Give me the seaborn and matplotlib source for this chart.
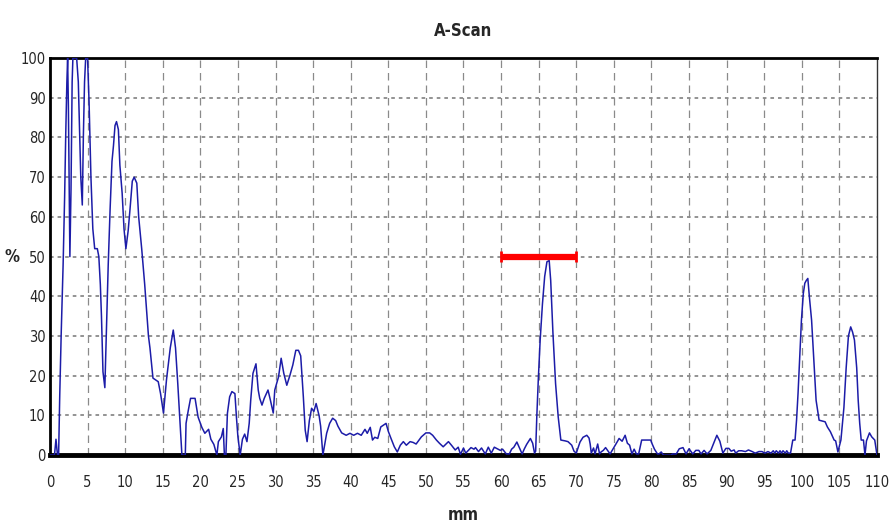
import matplotlib
matplotlib.use('Agg')
import matplotlib.pyplot as plt
import seaborn as sns
import pandas as pd

# A-scan trace (mm, % amplitude)
depth_mm = [
    0.0, 0.6, 0.8, 1.0, 1.15, 1.3, 1.5, 1.75, 1.95, 2.1, 2.25, 2.35, 2.45, 2.6, 2.65, 2.8, 2.95, 3.05,
    3.55, 3.77, 3.95, 4.1, 4.3, 4.45, 4.6, 4.75, 5.0, 5.2, 5.45, 5.7, 5.95, 6.3, 6.5, 6.7, 6.85, 7.05,
    7.3, 7.5, 7.75, 8.0, 8.25, 8.45, 8.65, 8.85, 9.1, 9.3, 9.6, 9.85, 10.1, 10.4, 10.65, 10.95, 11.2,
    11.55, 11.8, 12.2, 12.6, 13.1, 13.3, 13.7, 14.4, 14.7, 15.1, 15.5, 16.0, 16.4, 16.7, 17.0, 17.3,
    17.55, 18.0, 18.1, 18.4, 18.7, 19.3, 19.7, 20.2, 20.6, 21.1, 21.4, 21.8, 22.2, 22.4, 22.8, 23.05,
    23.2, 23.4, 23.6, 23.9, 24.2, 24.6, 24.8, 25.0, 25.3, 25.6, 25.9, 26.2, 26.5, 26.7, 27.0, 27.4,
    27.7, 27.9, 28.2, 28.5, 29.0, 29.3, 29.7, 29.9, 30.4, 30.75, 31.1, 31.5, 31.9, 32.3, 32.7, 33.05,
    33.35, 33.7, 33.95, 34.2, 34.5, 34.8, 35.1, 35.4, 35.8, 36.0, 36.3, 36.8, 37.2, 37.6, 38.0, 38.3,
    38.8, 39.4, 39.9, 40.4, 40.9, 41.4, 41.9, 42.2, 42.6, 42.9, 43.2, 43.6, 44.0, 44.4, 44.7, 45.0,
    45.3, 45.8, 46.2, 46.6, 47.0, 47.4, 47.9, 48.3, 48.7, 49.4, 50.0, 50.5, 50.9, 51.4, 51.8, 52.3,
    53.0, 53.4, 53.9, 54.3, 54.6, 55.0, 55.3, 56.0, 56.4, 56.6, 57.0, 57.4, 57.9, 58.3, 58.7, 59.1,
    59.5, 59.9, 60.2, 60.7, 61.1, 61.4, 61.7, 62.1, 62.4, 62.8, 63.1, 63.4, 63.9, 64.2, 64.45, 64.6,
    64.75, 64.95, 65.2, 65.5, 65.8, 66.1, 66.4, 66.6, 66.9, 67.25, 67.6, 67.95, 68.5, 68.9, 69.4,
    69.7, 70.0, 70.5, 70.9, 71.4, 71.7, 71.85, 72.0, 72.3, 72.5, 72.85, 73.1, 73.3, 73.6, 73.9, 74.5,
    75.0, 75.4, 75.7, 76.1, 76.5, 76.8, 77.1, 77.4, 77.7, 78.0, 78.3, 78.7, 79.4, 79.9, 80.1, 80.4,
    80.8, 81.0, 81.3, 81.6, 82.1, 82.6, 82.8, 83.3, 83.7, 84.2, 84.6, 85.0, 85.5, 85.9, 86.3, 86.6,
    87.0, 87.4, 87.9, 88.2, 88.7, 89.1, 89.5, 89.9, 90.3, 90.6, 91.0, 91.2, 91.6, 92.0, 92.5, 92.9,
    93.4, 93.8, 94.3, 94.7, 95.1, 95.5, 95.9, 96.2, 96.4, 96.6, 96.9, 97.1, 97.3, 97.5, 97.8, 98.0,
    98.2, 98.5, 98.8, 99.1, 99.3, 99.5, 99.7, 99.95, 100.2, 100.4, 100.6, 100.8, 101.0, 101.3, 101.6,
    101.9, 102.3, 102.7, 103.1, 103.4, 103.8, 104.3, 104.5, 104.8, 105.2, 105.6, 105.9, 106.2, 106.5,
    106.75, 107.0, 107.3, 107.5, 107.7, 107.9, 108.2, 108.4, 108.6, 109.0, 109.3, 109.7, 110.0,
]
amplitude = [
    0, 0, 4, 0, 0, 15, 31, 48, 65, 81, 94, 100, 88, 60, 50, 67, 94, 100,
    100, 94, 81, 70, 63, 81, 94, 100, 100, 89, 70, 57, 52, 52, 50, 43, 35, 21,
    17, 31, 48, 62, 74, 78, 83, 84, 82, 73, 66, 57, 52, 56.5, 62, 69, 70,
    68.5, 60, 52, 43, 30, 27, 19.4, 18.5, 15.6, 10.6, 19, 27, 31.5, 27, 18, 8,
    0, 0, 8, 11.3, 14.3, 14.3, 9.6, 7, 5.5, 6.5, 4, 2.7, 0, 3.4, 4.6, 6.7,
    0, 0, 10.5, 14.7, 16, 15.5, 9.6, 4.6, 0, 4, 5.3, 3.4, 8, 13.8, 20.6, 23,
    16.4, 14.3, 12.6, 14.3, 16.4, 14, 10.6, 16.4, 19.7, 24.4, 20.6, 17.6, 20, 22.7, 26.4, 26.4,
    25, 14.7, 6.3, 3.4, 8.7, 11.8, 11, 13, 9.9, 7.3, 0, 5.5, 8, 9.3, 8.7, 7.3,
    5.6, 5, 5.5, 5, 5.5, 5, 6.5, 5.5, 7, 3.8, 4.5, 4.2, 7.1, 7.6, 8, 6,
    4.5, 2.1, 0.8, 2.5, 3.4, 2.5, 3.4, 3.2, 2.8, 4.6, 5.6, 5.6, 5, 3.8, 3, 2.1,
    3.4, 2.5, 1.3, 2, 0.2, 1.8, 0.5, 1.9, 1.5, 1.9, 0.9, 1.8, 0.3, 2, 0.5, 2,
    1.6, 1.2, 1.5, 0.3, 0.3, 1.5, 2, 3.3, 2, 0.3, 1.6, 2.7, 4.2, 3, 0.5, 1,
    9.6, 19, 29, 38, 45, 48.7, 49, 44, 30.7, 18, 9.6, 3.8, 3.6, 3.4, 2.5,
    1, 0.5, 3.3, 4.5, 5, 4.3, 2.8, 0.5, 1.8, 0.3, 2.8, 0.3, 0.8, 1.2, 1.9, 0.3,
    1.9, 3.2, 4.2, 3.5, 5, 3, 2.5, 0.3, 1.5, 0.3, 0.3, 3.8, 3.8, 3.8, 2.8, 1.5,
    0.3, 0.3, 0.8, 0, 0, 0, 0.3, 0.3, 1.6, 1.9, 0.3, 1.6, 0.3, 1.2, 1.2, 0.3,
    1.2, 0.3, 1.2, 2.6, 5, 3.5, 0.5, 1.7, 1.7, 1.0, 1.3, 0.5, 1.1, 1.1, 0.9, 1.3,
    0.9, 0.5, 0.9, 0.9, 0.5, 0.9, 0.5, 1.1, 0.5, 1.1, 0.5, 1.1, 0.5, 1.1, 0.5, 1.1,
    0.5, 0.5, 3.8, 3.8, 8.8, 15.6, 24, 34, 40.7, 43.3, 44, 44.5, 40, 34, 24,
    13.8, 8.8, 8.6, 8.4, 7.1, 5.9, 3.8, 3.6, 0.8, 3.8, 12, 22, 30, 32.3,
    31, 29, 22, 13.8, 8, 3.8, 3.8, 0, 3.6, 5.6, 4.6, 3.8, 0,
]

# gate (red bar)
gate_start = 60
gate_end = 70
gate_level = 50

x_ticks = list(range(0, 111, 5))
y_ticks = list(range(0, 101, 10))

sns.set_style('white')
plt.rcParams['font.family'] = ['DejaVu Sans']
plt.rcParams['font.stretch'] = 'condensed'

df = pd.DataFrame({'mm': depth_mm, 'pct': amplitude})

fig = plt.figure(figsize=(8.89, 5.28), dpi=100)
ax = fig.add_axes([0.0562, 0.138, 0.9303, 0.752])

# grid: dashed verticals, dotted horizontals
for xv in x_ticks[1:-1]:
    ax.axvline(xv, color='#8a8a8a', lw=0.9, dashes=(6, 4), zorder=1)
for yv in y_ticks[1:-1]:
    ax.axhline(yv, color='#8a8a8a', lw=1.3, dashes=(2, 2.2), zorder=1)

sns.lineplot(data=df, x='mm', y='pct', ax=ax, color='#1c1ca8', lw=1.1,
             estimator=None, sort=False, zorder=3)

# gate bar with end caps
ax.hlines(gate_level, gate_start, gate_end, color='#ff0000', lw=4.5, zorder=4)
ax.vlines([gate_start, gate_end], gate_level - 1.3, gate_level + 1.3, color='#ff0000', lw=2, zorder=4)

ax.set_xlim(0, 110)
ax.set_ylim(0, 100)
ax.set_xticks(x_ticks)
ax.set_xticks(range(0, 111), minor=True)
ax.set_yticks(y_ticks)

ax.tick_params(axis='x', which='both', direction='out', length=4, width=0.8,
               color='#555555', pad=10, labelsize=10.5)
ax.tick_params(axis='y', which='major', direction='out', length=0, pad=3, labelsize=10.5)

for side in ['left', 'top']:
    ax.spines[side].set_color('black')
    ax.spines[side].set_linewidth(2)
ax.spines['right'].set_color('#333333')
ax.spines['right'].set_linewidth(1)
ax.spines['bottom'].set_color('black')
ax.spines['bottom'].set_linewidth(3.5)

ax.set_title('A-Scan', fontsize=12, pad=16, fontweight='bold')
ax.set_xlabel('mm', fontsize=12, labelpad=12, fontweight='bold')
ax.set_ylabel('%', fontsize=12, rotation=0, va='center', ha='center', fontweight='bold')
ax.yaxis.set_label_coords(-0.046, 0.5)

fig.savefig('out.png', dpi=100)
